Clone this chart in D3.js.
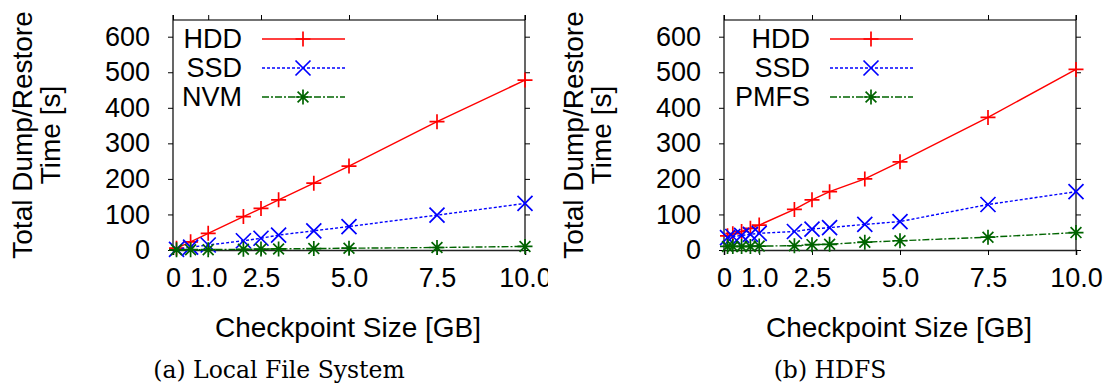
<!DOCTYPE html>
<html>
<head>
<meta charset="utf-8">
<script src="https://cdn.jsdelivr.net/npm/d3@7"></script>
<style>
  body { margin: 0; background: #fff; }
  svg { display: block; }
  text { font-family: "Liberation Sans", Arial, sans-serif; fill: #000; }
  .caption { font-family: "DejaVu Serif", "Liberation Serif", serif; }
</style>
</head>
<body>
<div id="chart"></div>
<script>
// data
const sizesLocal = [0.1, 0.5, 1.0, 2.0, 2.5, 3.0, 4.0, 5.0, 7.5, 10.0];
const hddLocal = [5, 23, 47, 94, 117, 141, 188, 236, 361, 478];
const ssdLocal = [2, 8, 14, 26, 33, 42, 54, 66, 98, 131];
const nvmLocal = [0.5, 0.8, 1, 2, 2.5, 3, 4, 5, 7, 10];

const sizesHdfs = [0.1, 0.25, 0.5, 0.75, 1.0, 2.0, 2.5, 3.0, 4.0, 5.0, 7.5, 10.0];
const hddHdfs = [40, 46, 52, 61, 70, 114, 141, 164, 200, 248, 373, 508];
const ssdHdfs = [35, 38, 41, 44, 47, 52, 59, 63, 72, 80, 128, 164];
const pmfsHdfs = [10, 10, 10, 10, 11, 12, 15, 16, 22, 26, 36, 49];

const xTicks = [0, 1.0, 2.5, 5.0, 7.5, 10.0];
const xTickLabels = ["0", "1.0", "2.5", "5.0", "7.5", "10.0"];
const yTicks = [0, 100, 200, 300, 400, 500, 600];

const width = 1107;
const height = 391;

let svg = d3.select("#chart").append("svg")
  .attr("width", width)
  .attr("height", height);

// marker paths, centred at 0,0
function markerPath(kind, r) {
  let p = d3.path();
  if (kind === "plus" || kind === "star") {
    p.moveTo(-r, 0); p.lineTo(r, 0);
    p.moveTo(0, -r); p.lineTo(0, r);
  }
  if (kind === "cross" || kind === "star") {
    let k = kind === "star" ? r * 0.72 : r;
    p.moveTo(-k, -k); p.lineTo(k, k);
    p.moveTo(-k, k); p.lineTo(k, -k);
  }
  return p.toString();
}

function drawPanel(opts) {
  let left = opts.left, right = opts.left + 352;
  let top = 20, bottom = 250;

  let g = svg.append("g").classed("panel", true);
  if (opts.clipRight) {
    let id = "clip" + opts.id;
    svg.append("clipPath").attr("id", id)
      .append("rect").attr("x", opts.left - 200).attr("y", 0)
      .attr("width", opts.clipRight - (opts.left - 200)).attr("height", height);
    g.attr("clip-path", `url(#${id})`);
  }

  let x = d3.scaleLinear().domain([0, 10]).range([left, right]);
  let y = d3.scaleLinear().domain([0, 650]).range([bottom, bottom - 6.5 * 35.55]);

  // frame
  g.append("line").attr("x1", left).attr("x2", right).attr("y1", top).attr("y2", top)
    .attr("stroke", "#444").attr("stroke-width", 1.6);
  g.append("line").attr("x1", left).attr("x2", left).attr("y1", 15).attr("y2", bottom + 1)
    .attr("stroke", "#000").attr("stroke-width", 1.2);
  g.append("line").attr("x1", right).attr("x2", right).attr("y1", 15).attr("y2", bottom + 1)
    .attr("stroke", "#000").attr("stroke-width", 1.2);

  // bottom axis
  let xAxis = d3.axisBottom(x).tickValues(xTicks)
    .tickFormat((d, i) => xTickLabels[i]).tickSize(5).tickPadding(13);
  let xg = g.append("g").attr("transform", `translate(0,${bottom})`).call(xAxis);
  xg.select(".domain").attr("stroke", "#222").attr("stroke-width", 1.6);
  xg.selectAll("text").attr("font-size", 27).attr("font-family", "Liberation Sans, Arial, sans-serif");

  // top mirrored ticks
  let xTop = d3.axisTop(x).tickValues(xTicks).tickFormat("").tickSize(5);
  let xtg = g.append("g").attr("transform", `translate(0,${top})`).call(xTop);
  xtg.select(".domain").remove();

  // left axis
  let yAxis = d3.axisLeft(y).tickValues(yTicks).tickSize(5).tickPadding(18);
  let yg = g.append("g").attr("transform", `translate(${left},0)`).call(yAxis);
  yg.select(".domain").remove();
  yg.selectAll("text").attr("font-size", 27).attr("font-family", "Liberation Sans, Arial, sans-serif");

  let yRight = d3.axisRight(y).tickValues(yTicks).tickFormat("").tickSize(5);
  let yrg = g.append("g").attr("transform", `translate(${right},0)`).call(yRight);
  yrg.select(".domain").remove();

  // axis titles
  let ly = g.append("text")
    .attr("transform", `translate(${left - 141},135) rotate(-90)`)
    .attr("text-anchor", "middle").attr("font-size", 28);
  ly.append("tspan").attr("x", 0).attr("dy", 0).text("Total Dump/Restore");
  ly.append("tspan").attr("x", 0).attr("dy", 28).text("Time [s]");

  g.append("text").attr("x", left + 175).attr("y", 337)
    .attr("text-anchor", "middle").attr("font-size", 28)
    .text("Checkpoint Size [GB]");

  svg.append("text").classed("caption", true)
    .attr("x", left + 106).attr("y", 378)
    .attr("text-anchor", "middle").attr("font-size", 23.5)
    .text(opts.caption);

  // series
  let lineGen = d3.line().x((d) => x(d[0])).y((d) => y(d[1]));
  opts.series.forEach((s, si) => {
    let pts = opts.sizes.map((v, i) => [v, s.values[i]]);
    g.append("path").datum(pts)
      .attr("d", lineGen)
      .attr("fill", "none")
      .attr("stroke", s.color)
      .attr("stroke-width", 1.4)
      .attr("stroke-dasharray", s.dash);
    g.selectAll(".m" + si).data(pts).enter().append("path")
      .classed("m" + si, true)
      .attr("transform", (d) => `translate(${x(d[0])},${y(d[1])})`)
      .attr("d", markerPath(s.marker, 7.5))
      .attr("stroke", s.color).attr("stroke-width", 1.7).attr("fill", "none");

    // legend entry
    let ry = 39 + si * 29;
    let lx = left + opts.legendOffset;
    g.append("text").attr("x", lx).attr("y", ry)
      .attr("dy", "0.35em").attr("text-anchor", "end").attr("font-size", 27)
      .text(s.name);
    g.append("line").attr("x1", lx + 20).attr("x2", lx + 103)
      .attr("y1", ry).attr("y2", ry)
      .attr("stroke", s.color).attr("stroke-width", 1.4)
      .attr("stroke-dasharray", s.dash);
    g.append("path").attr("transform", `translate(${lx + 61},${ry})`)
      .attr("d", markerPath(s.marker, 7.5))
      .attr("stroke", s.color).attr("stroke-width", 1.7).attr("fill", "none");
  });
}

drawPanel({
  id: "a",
  left: 173,
  clipRight: 548,
  legendOffset: 69,
  sizes: sizesLocal,
  caption: "(a) Local File System",
  series: [
    { name: "HDD", values: hddLocal, color: "#ff0000", dash: null, marker: "plus" },
    { name: "SSD", values: ssdLocal, color: "#0000ff", dash: "3,2", marker: "cross" },
    { name: "NVM", values: nvmLocal, color: "#006400", dash: "7,2,2,2", marker: "star" },
  ],
});

drawPanel({
  id: "b",
  left: 724,
  clipRight: null,
  legendOffset: 86,
  sizes: sizesHdfs,
  caption: "(b) HDFS",
  series: [
    { name: "HDD", values: hddHdfs, color: "#ff0000", dash: null, marker: "plus" },
    { name: "SSD", values: ssdHdfs, color: "#0000ff", dash: "3,2", marker: "cross" },
    { name: "PMFS", values: pmfsHdfs, color: "#006400", dash: "7,2,2,2", marker: "star" },
  ],
});
</script>
</body>
</html>
